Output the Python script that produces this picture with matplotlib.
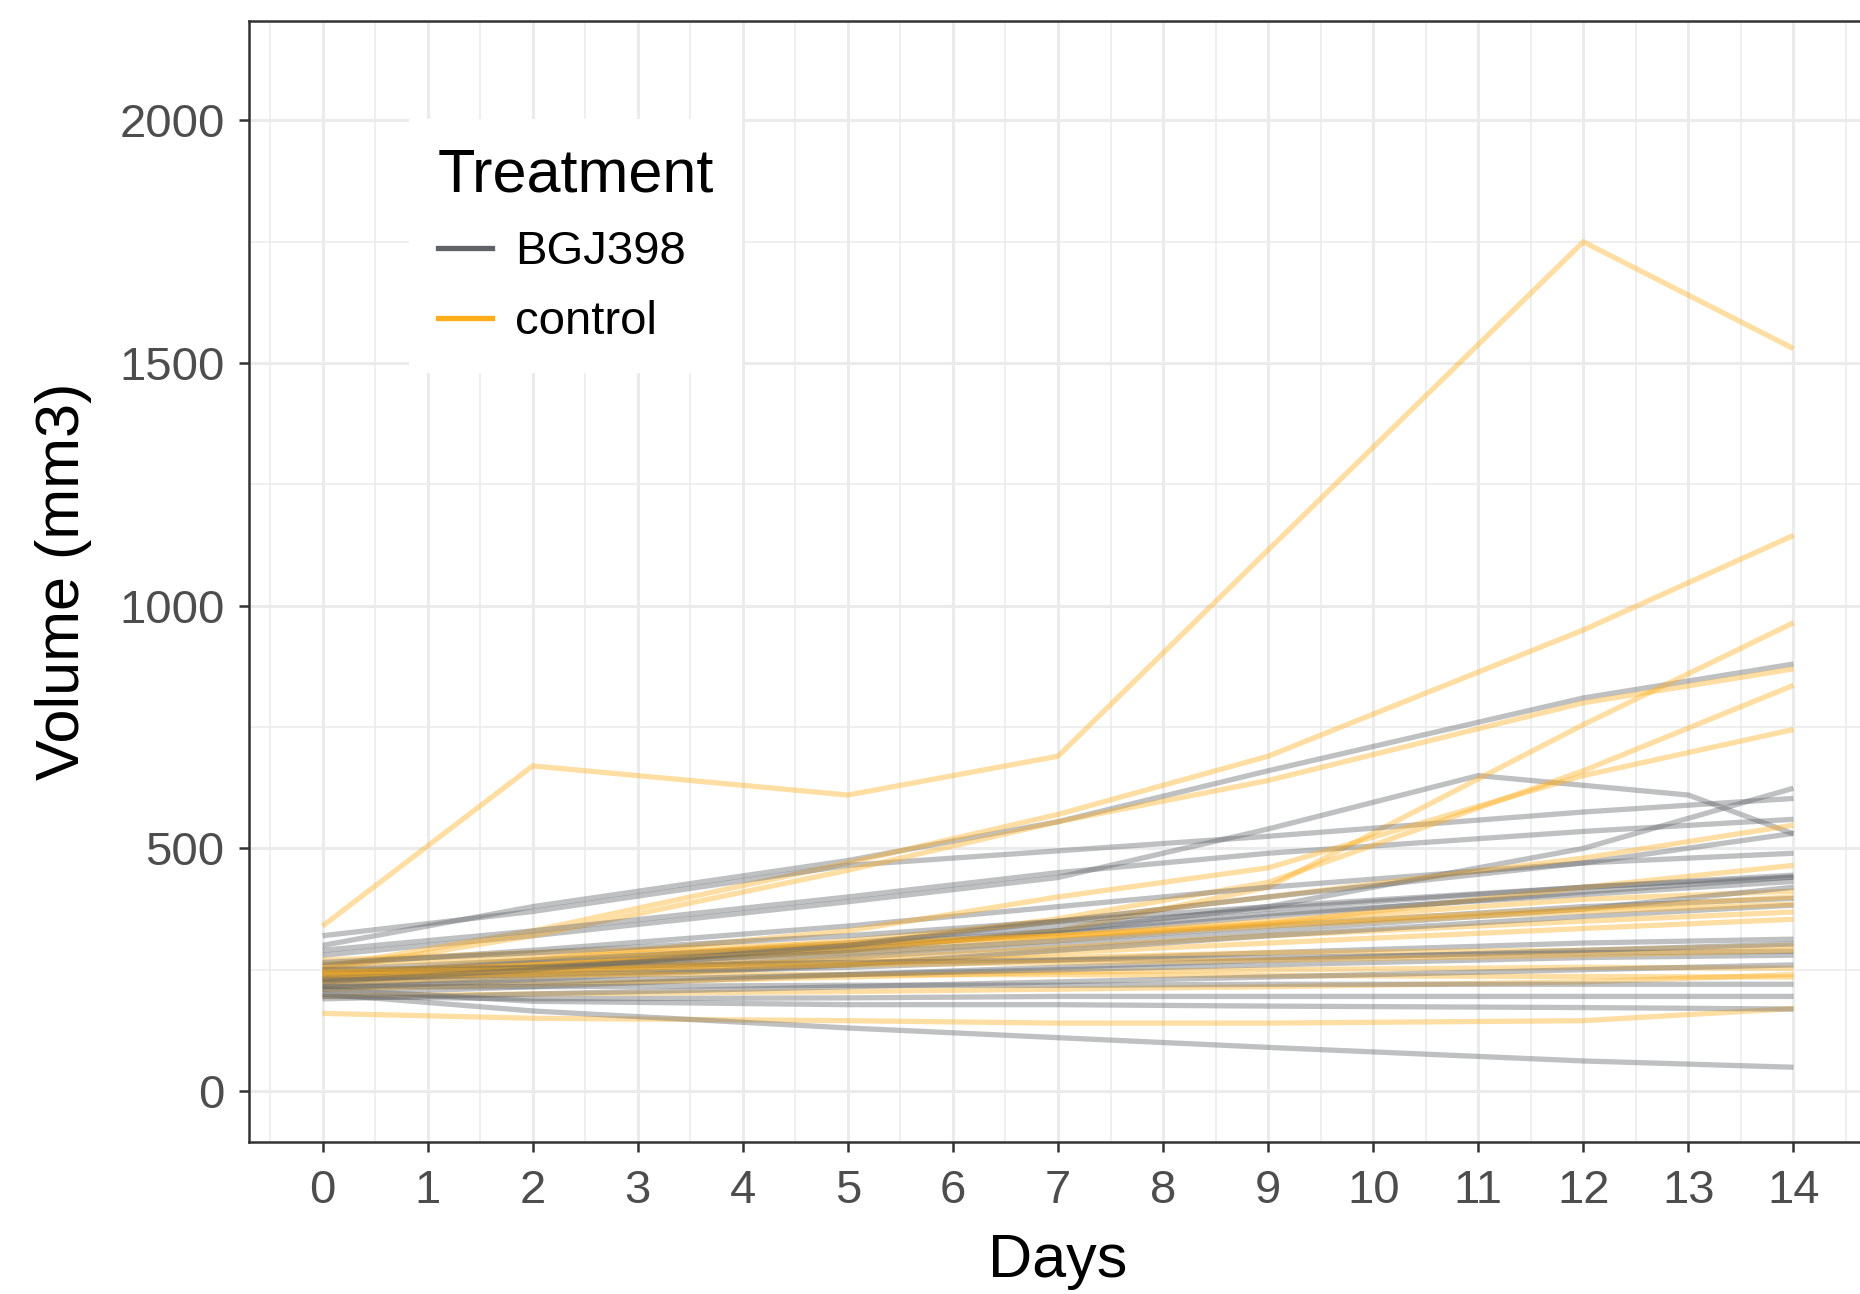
"""
plot.py - tumour volume per mouse over time, BGJ398 vs control (spaghetti plot)
"""

import matplotlib
matplotlib.use("Agg")
import matplotlib.pyplot as plt
from matplotlib.ticker import MultipleLocator

# ---- data ------------------------------------------------------------------
DAYS = [0, 2, 5, 7, 9, 12, 14]
DAYS_G2 = [0, 2, 5, 7, 9, 11, 13, 14]

# BGJ398 arm, one list per animal (values at DAYS)
bgj_1 = [300, 380, 475, 555, 660, 810, 880]
bgj_2 = [280, 320, 390, 440, 540, 650, 610, 530]  # measured on DAYS_G2
bgj_3 = [230, 250, 290, 330, 380, 500, 624]
bgj_4 = [320, 370, 465, 495, 525, 575, 603]
bgj_5 = [290, 330, 400, 450, 490, 535, 560]
bgj_6 = [260, 290, 340, 380, 420, 470, 490]
bgj_7 = [240, 265, 305, 340, 375, 420, 441]
bgj_8 = [230, 255, 295, 325, 360, 410, 441]
bgj_9 = [250, 270, 300, 330, 365, 405, 432]
bgj_10 = [220, 240, 275, 300, 330, 375, 420]
bgj_11 = [240, 255, 285, 310, 340, 380, 397]
bgj_12 = [210, 230, 260, 290, 320, 360, 383]
bgj_13 = [230, 240, 255, 270, 285, 305, 313]
bgj_14 = [200, 215, 240, 255, 270, 290, 303]
bgj_15 = [250, 255, 265, 270, 275, 285, 288]
bgj_16 = [215, 225, 240, 250, 260, 275, 280]
bgj_17 = [190, 200, 215, 225, 235, 250, 260]
bgj_18 = [215, 215, 218, 218, 220, 220, 220]
bgj_19 = [195, 190, 192, 195, 195, 195, 195]
bgj_20 = [210, 185, 178, 178, 175, 172, 169]
bgj_21 = [200, 165, 130, 110, 90, 62, 49]
bgj_22 = [225, 250, 300, 350, 400, 470, 531]
bgj_23 = [265, 285, 320, 350, 380, 420, 445]

# control arm
ctl_1 = [340, 670, 610, 690, 1115, 1750, 1530]
ctl_2 = [255, 330, 470, 570, 690, 950, 1145]
ctl_3 = [240, 260, 290, 330, 420, 755, 965]
ctl_4 = [250, 320, 455, 555, 640, 800, 870]
ctl_5 = [230, 255, 300, 355, 430, 660, 836]
ctl_6 = [240, 270, 330, 400, 460, 650, 745]
ctl_7 = [235, 260, 310, 350, 400, 480, 548]
ctl_8 = [225, 245, 280, 310, 345, 420, 465]
ctl_9 = [245, 260, 290, 320, 350, 395, 412]
ctl_10 = [230, 245, 270, 295, 320, 350, 369]
ctl_11 = [220, 235, 260, 285, 305, 335, 354]
ctl_12 = [260, 275, 300, 320, 340, 370, 385]
ctl_13 = [250, 255, 265, 275, 285, 290, 300]
ctl_14 = [210, 220, 235, 245, 250, 255, 253]
ctl_15 = [240, 240, 240, 240, 238, 236, 235]
ctl_16 = [195, 200, 205, 210, 215, 225, 240]
ctl_17 = [160, 150, 145, 140, 140, 145, 170]
ctl_18 = [245, 250, 260, 265, 270, 280, 290]
ctl_19 = [270, 285, 305, 320, 345, 375, 400]

BGJ_SERIES = [
    (DAYS, bgj_1), (DAYS_G2, bgj_2), (DAYS, bgj_3), (DAYS, bgj_4),
    (DAYS, bgj_5), (DAYS, bgj_6), (DAYS, bgj_7), (DAYS, bgj_8),
    (DAYS, bgj_9), (DAYS, bgj_10), (DAYS, bgj_11), (DAYS, bgj_12),
    (DAYS, bgj_13), (DAYS, bgj_14), (DAYS, bgj_15), (DAYS, bgj_16),
    (DAYS, bgj_17), (DAYS, bgj_18), (DAYS, bgj_19), (DAYS, bgj_20),
    (DAYS, bgj_21), (DAYS, bgj_22), (DAYS, bgj_23),
]
CTL_SERIES = [
    ctl_1, ctl_2, ctl_3, ctl_4, ctl_5, ctl_6, ctl_7, ctl_8, ctl_9, ctl_10,
    ctl_11, ctl_12, ctl_13, ctl_14, ctl_15, ctl_16, ctl_17, ctl_18, ctl_19,
]

GROUP_LABELS = ["BGJ398", "control"]
X_TICKS = list(range(0, 15))
Y_TICKS = [0, 500, 1000, 1500, 2000]

GRAY = "#5F6368"
ORANGE = "#FFAE1A"
LINE_ALPHA = 0.4
LINE_W = 3.8


def style_axes(ax):
    ax.set_xlim(-0.7, 14.7)
    ax.set_ylim(-105, 2205)
    ax.set_xticks(X_TICKS)
    ax.set_yticks(Y_TICKS)
    ax.xaxis.set_minor_locator(MultipleLocator(0.5))
    ax.yaxis.set_minor_locator(MultipleLocator(250))

    ax.grid(True, which="major", color="#EBEBEB", linewidth=2.2, zorder=0)
    ax.grid(True, which="minor", color="#EBEBEB", linewidth=1.1, zorder=0)
    ax.set_axisbelow(True)

    for spine in ax.spines.values():
        spine.set_color("#333333")
        spine.set_linewidth(1.8)

    ax.tick_params(axis="both", which="major", length=7.5, width=1.8,
                   color="#333333", labelsize=34, labelcolor="#4D4D4D")
    ax.tick_params(axis="x", which="major", pad=12)
    ax.tick_params(axis="y", which="major", pad=10)
    ax.tick_params(axis="both", which="minor", length=0)

    ax.set_xlabel("Days", fontsize=44, color="black", labelpad=14)
    ax.set_ylabel("Volume (mm3)", fontsize=44, color="black", labelpad=20)


def main():
    plt.rcParams["font.family"] = ["Liberation Sans", "DejaVu Sans"]

    fig = plt.figure(figsize=(18.6, 12.94), dpi=100)
    ax = fig.add_axes([249 / 1860, 1 - 1142 / 1294, 1618 / 1860, 1121 / 1294])

    # draw the two arms interleaved so overlaps mix like the original
    n = max(len(BGJ_SERIES), len(CTL_SERIES))
    for i in range(n):
        if i < len(BGJ_SERIES):
            d, v = BGJ_SERIES[i]
            ax.plot(d, v, color=GRAY, alpha=LINE_ALPHA, linewidth=LINE_W,
                    solid_capstyle="butt", zorder=2)
        if i < len(CTL_SERIES):
            ax.plot(DAYS, CTL_SERIES[i], color=ORANGE, alpha=LINE_ALPHA,
                    linewidth=LINE_W, solid_capstyle="butt", zorder=2)

    style_axes(ax)

    handles = [
        plt.Line2D([], [], color=GRAY, linewidth=LINE_W),
        plt.Line2D([], [], color=ORANGE, linewidth=LINE_W),
    ]
    leg = ax.legend(handles, GROUP_LABELS, title="Treatment",
                    loc="upper left", bbox_to_anchor=(0.099, 0.9126),
                    borderaxespad=0, fontsize=34, title_fontsize=44,
                    frameon=True, fancybox=False, framealpha=1,
                    edgecolor="none", facecolor="white",
                    handlelength=1.15, handletextpad=0.5,
                    labelspacing=0.55, borderpad=0.6, alignment="left")
    leg.set_zorder(5)

    fig.savefig("out.png", dpi=100)
    plt.close(fig)


if __name__ == "__main__":
    main()
